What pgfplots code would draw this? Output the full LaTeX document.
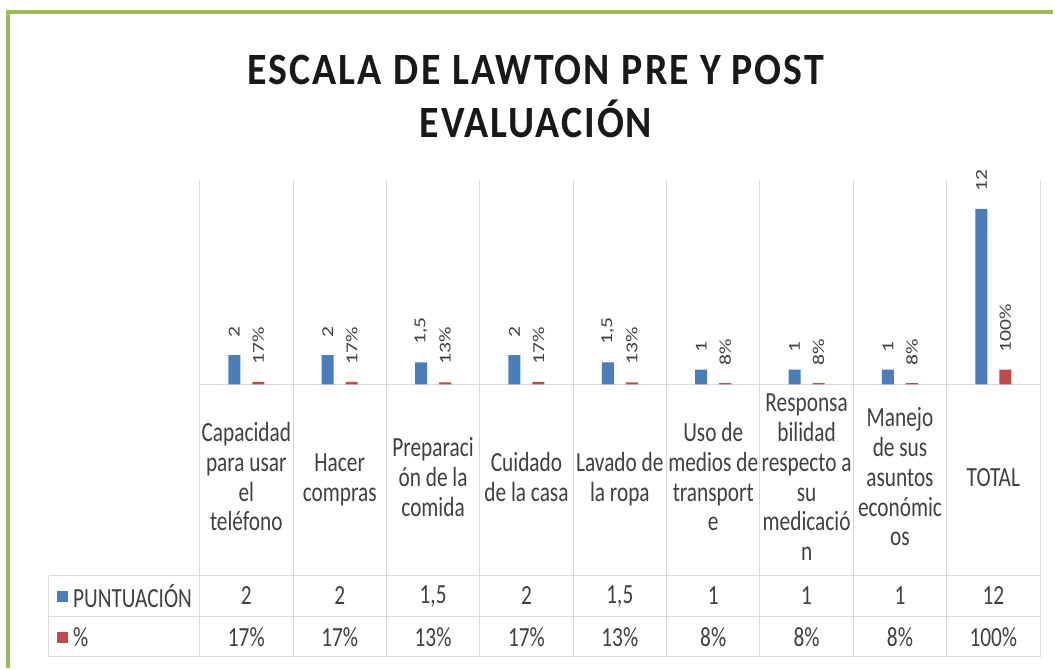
\documentclass[border=0pt]{standalone}
\usepackage{pgfplots}
\pgfplotsset{compat=1.18}
\usepackage{fontspec}
\setmainfont{Carlito}
\newfontfamily\titlefont[LetterSpace=5]{Carlito}
\definecolor{bblue}{HTML}{4A7EBB}
\definecolor{rred}{HTML}{BE4B48}
\definecolor{bgreen}{HTML}{9BBB59}
\definecolor{gridc}{HTML}{D9D9D9}
\definecolor{txt}{HTML}{404040}
\newcommand{\vs}[1]{\scalebox{1}[1.3]{#1}}
\newcommand{\cl}[1]{\vs{\begin{tabular}{@{}c@{}}#1\end{tabular}}}
\begin{document}
\begin{tikzpicture}[x=0.75pt,y=0.75pt]
\fill[white] (0,0) rectangle (1055,669);
\draw[bgreen, line width=3pt] (8,0) -- (8,656.5) -- (1055,656.5);
% title
\node[inner sep=0, text=black!90, font=\titlefont\bfseries\fontsize{28}{28}\selectfont] at (537,599) {\scalebox{1.07}[1.2]{ESCALA\hspace{0.3em}DE\hspace{0.3em}LAWTON\hspace{0.3em}PRE Y POST}};
\node[inner sep=0, text=black!90, font=\titlefont\bfseries\fontsize{28}{28}\selectfont] at (537,550) {\scalebox{1.07}[1.2]{EVALUACIÓN}};
% grid and table lines
\foreach \i in {0,...,9} \draw[gridc, line width=0.75pt] (200+\i*93.56,489) -- (200+\i*93.56,11);
\draw[gridc, line width=0.75pt] (200,284) -- (1042,284);
\draw[gridc, line width=0.75pt] (49,92) -- (1042,92);
\draw[gridc, line width=0.75pt] (49,51) -- (1042,51);
\draw[gridc, line width=0.75pt] (49,11) -- (1042,11);
\draw[gridc, line width=0.75pt] (49,92) -- (49,11);
% legend keys in table
\fill[bblue] (57,66) rectangle (68,77);
\fill[rred] (57,25) rectangle (68,36);
\node[anchor=west, inner sep=0, text=txt, font=\fontsize{16}{17.3}\selectfont] at (73,72) {\vs{PUNTUACIÓN}};
\node[anchor=west, inner sep=0, text=txt, font=\fontsize{16}{17.3}\selectfont] at (73,31) {\vs{\%}};
% category labels
\begin{scope}[every node/.style={inner sep=0, text=txt, font=\fontsize{16}{17.3}\selectfont}]
\node at (200+0.5*93.56,188) {\cl{Capacidad\\para usar\\el\\teléfono}};
\node at (200+1.5*93.56,188) {\cl{Hacer\\compras}};
\node at (200+2.5*93.56,188) {\cl{Preparaci\\ón de la\\comida}};
\node at (200+3.5*93.56,188) {\cl{Cuidado\\de la casa}};
\node at (200+4.5*93.56,188) {\cl{Lavado de\\la ropa}};
\node at (200+5.5*93.56,188) {\cl{Uso de\\medios de\\transport\\e}};
\node at (200+6.5*93.56,188) {\cl{Responsa\\bilidad\\respecto a\\su\\medicació\\n}};
\node at (200+7.5*93.56,188) {\cl{Manejo\\de sus\\asuntos\\económic\\os}};
\node at (200+8.5*93.56,188) {\cl{TOTAL}};
\foreach \v [count=\i from 0] in {2,2,{1,5},2,{1,5},1,1,1,12}
  \node at (200+\i*93.56+46.78,72) {\vs{\v}};
\foreach \v [count=\i from 0] in {17,17,13,17,13,8,8,8,100}
  \node at (200+\i*93.56+46.78,31) {\vs{\v\%}};
\end{scope}
\begin{axis}[at={(150pt,213pt)}, anchor=south west, scale only axis,
  width=631.5pt, height=153.75pt,
  xmin=-0.5, xmax=8.5, ymin=0, ymax=14,
  hide axis, clip=false,
  ybar=9pt, bar width=9pt,
  point meta=explicit symbolic,
  nodes near coords={\scalebox{1.3}[1]{\pgfplotspointmeta}},
  every node near coord/.append style={rotate=90, anchor=west, inner xsep=13pt,
    text=txt, font=\fontsize{12.5}{12.5}\selectfont}]
\addplot[fill=bblue, draw=none] coordinates {
  (0,2) [2] (1,2) [2] (2,1.5) [{1,5}] (3,2) [2] (4,1.5) [{1,5}]
  (5,1) [1] (6,1) [1] (7,1) [1] (8,12) [12]};
\addplot[fill=rred, draw=none] coordinates {
  (0,0.17) [17\%] (1,0.17) [17\%] (2,0.13) [13\%] (3,0.17) [17\%] (4,0.13) [13\%]
  (5,0.08) [8\%] (6,0.08) [8\%] (7,0.08) [8\%] (8,1) [100\%]};
\end{axis}
\end{tikzpicture}
\end{document}
